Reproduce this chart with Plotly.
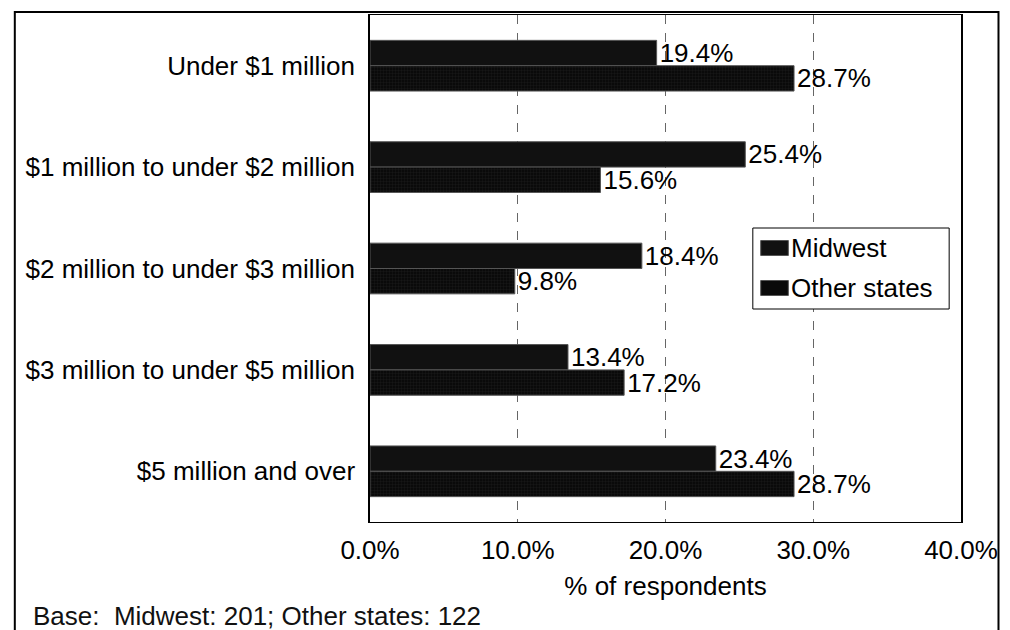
import plotly.graph_objects as go

# Revenue bands and share of respondents (%) by region
categories = [
    "Under $1 million",
    "$1 million to under $2 million",
    "$2 million to under $3 million",
    "$3 million to under $5 million",
    "$5 million and over",
]
midwest = [19.4, 25.4, 18.4, 13.4, 23.4]
other_states = [28.7, 15.6, 9.8, 17.2, 28.7]
series_names = ["Midwest", "Other states"]
x_ticks = [0, 10, 20, 30, 40]
x_title = "% of respondents"
base_note = "Base:  Midwest: 201; Other states: 122"

FONT = "Liberation Sans, Arial, sans-serif"
FS = 26

# Page geometry (pixels)
W, H = 1010, 630
L, R, T, B = 370, 41, 15, 108
PW, PH = W - L - R, H - T - B


def px(xp):
    return (xp - L) / PW


def py(yp):
    return (H - B - yp) / PH


fig = go.Figure()
fig.add_trace(go.Bar(
    name=series_names[0], y=categories, x=midwest, orientation="h",
    marker=dict(color="#111111", line=dict(color="#555555", width=1)),
    text=[f"{v:.1f}%" for v in midwest], textposition="outside",
    constraintext="none", cliponaxis=False,
    textfont=dict(family=FONT, size=FS, color="black"),
))
fig.add_trace(go.Bar(
    name=series_names[1], y=categories, x=other_states, orientation="h",
    marker=dict(color="#0a0a0a", line=dict(color="#555555", width=1),
                pattern=dict(shape="+", fgcolor="#2e2e2e", bgcolor="#0a0a0a",
                             size=3, solidity=0.25)),
    text=[f"{v:.1f}%" for v in other_states], textposition="outside",
    constraintext="none", cliponaxis=False,
    textfont=dict(family=FONT, size=FS, color="black"),
))

shapes = []
annotations = []

# Outer frame around the whole chart
shapes.append(dict(type="rect", xref="paper", yref="paper",
                   x0=px(10), x1=px(1007), y0=py(645), y1=py(12),
                   line=dict(color="black", width=2), fillcolor="rgba(0,0,0,0)",
                   layer="above"))

# Legend box with swatches
shapes.append(dict(type="rect", xref="paper", yref="paper",
                   x0=px(758), x1=px(957), y0=py(309), y1=py(228),
                   line=dict(color="black", width=1), fillcolor="white",
                   layer="above"))
swatch_rows = [248, 288]
for i, yc in enumerate(swatch_rows):
    shapes.append(dict(type="rect", xref="paper", yref="paper",
                       x0=px(766), x1=px(794), y0=py(yc + 7.5), y1=py(yc - 7.5),
                       line=dict(color="#555555", width=1),
                       fillcolor="#111111" if i == 0 else "#0a0a0a",
                       layer="above"))
    annotations.append(dict(xref="paper", yref="paper", x=px(795), y=py(yc),
                            xanchor="left", yanchor="middle", showarrow=False,
                            text=series_names[i],
                            font=dict(family=FONT, size=FS, color="black")))

annotations.append(dict(xref="paper", yref="paper", x=px(26), y=py(616),
                        xanchor="left", yanchor="middle", showarrow=False,
                        text=base_note,
                        font=dict(family=FONT, size=FS, color="#111111")))

fig.update_layout(
    width=W, height=H,
    margin=dict(l=L, r=R, t=T, b=B, pad=0),
    paper_bgcolor="white", plot_bgcolor="white",
    barmode="group", bargap=0.5, bargroupgap=0,
    showlegend=False,
    font=dict(family=FONT, size=FS, color="black"),
    shapes=shapes, annotations=annotations,
)
fig.update_xaxes(
    range=[0, 40], tickvals=x_ticks,
    ticktext=[f"{v:.1f}%" for v in x_ticks],
    showgrid=True, gridcolor="#666666", griddash="dash", gridwidth=1,
    zeroline=False, showline=True, mirror=True, linecolor="black", linewidth=1,
    ticks="", ticklabelstandoff=5,
    tickfont=dict(family=FONT, size=FS, color="black"),
    title=dict(text=x_title, standoff=12,
               font=dict(family=FONT, size=FS, color="black")),
)
fig.update_yaxes(
    autorange="reversed", showgrid=False, zeroline=False,
    showline=True, mirror=True, linecolor="black", linewidth=1.5,
    ticks="", ticklabelstandoff=8,
    tickfont=dict(family=FONT, size=FS, color="black"),
)

fig.write_html("out.html")
